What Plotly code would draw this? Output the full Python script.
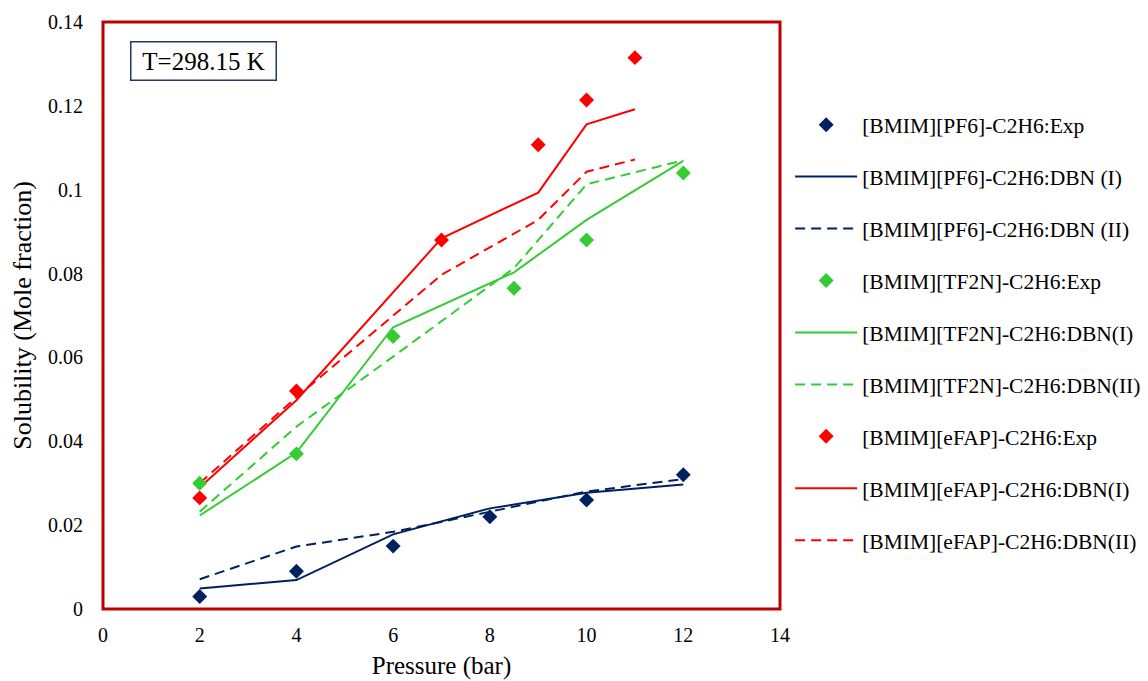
import plotly.graph_objects as go

# ---- data ----
x_pf6 = [2, 4, 6, 8, 10, 12]
pf6_exp = [0.003, 0.009, 0.015, 0.022, 0.026, 0.032]
pf6_dbn1 = [0.0049, 0.0069, 0.0178, 0.0240, 0.0277, 0.0297]
pf6_dbn2 = [0.0071, 0.0149, 0.0184, 0.0232, 0.0280, 0.0310]

x_tf2n = [2, 4, 6, 8.5, 10, 12]
tf2n_exp = [0.030, 0.037, 0.065, 0.0765, 0.088, 0.104]
tf2n_dbn1 = [0.0223, 0.0373, 0.0672, 0.0803, 0.0928, 0.1069]
tf2n_dbn2 = [0.0232, 0.0435, 0.0602, 0.0813, 0.1013, 0.1070]

x_efap = [2, 4, 7, 9, 10, 11]
efap_exp = [0.0265, 0.052, 0.088, 0.1107, 0.1214, 0.1315]
efap_dbn1 = [0.0290, 0.0498, 0.0884, 0.0993, 0.1156, 0.1192]
efap_dbn2 = [0.0300, 0.0505, 0.0797, 0.0928, 0.1043, 0.1072]

x_ticks = [0, 2, 4, 6, 8, 10, 12, 14]
y_ticks = [0, 0.02, 0.04, 0.06, 0.08, 0.10, 0.12, 0.14]
y_tick_labels = ["0", "0.02", "0.04", "0.06", "0.08", "0.1", "0.12", "0.14"]

NAVY = "#002060"
GREEN = "#33CC33"
RED = "#FF0000"
FONT = "Liberation Serif"

fig = go.Figure()

series = [
    ("[BMIM][PF6]-C2H6:Exp", x_pf6, pf6_exp, NAVY, "exp"),
    ("[BMIM][PF6]-C2H6:DBN (I)", x_pf6, pf6_dbn1, NAVY, "solid"),
    ("[BMIM][PF6]-C2H6:DBN (II)", x_pf6, pf6_dbn2, NAVY, "dash"),
    ("[BMIM][TF2N]-C2H6:Exp", x_tf2n, tf2n_exp, GREEN, "exp"),
    ("[BMIM][TF2N]-C2H6:DBN(I)", x_tf2n, tf2n_dbn1, GREEN, "solid"),
    ("[BMIM][TF2N]-C2H6:DBN(II)", x_tf2n, tf2n_dbn2, GREEN, "dash"),
    ("[BMIM][eFAP]-C2H6:Exp", x_efap, efap_exp, RED, "exp"),
    ("[BMIM][eFAP]-C2H6:DBN(I)", x_efap, efap_dbn1, RED, "solid"),
    ("[BMIM][eFAP]-C2H6:DBN(II)", x_efap, efap_dbn2, RED, "dash"),
]

traces = []
for i, (name, xs, ys, col, kind) in enumerate(series):
    if kind == "exp":
        tr = go.Scatter(x=xs, y=ys, mode="markers", name=name,
                        marker=dict(symbol="diamond", size=11.5, color=col),
                        legendrank=i + 1, legendgroup=f"g{i}")
    else:
        tr = go.Scatter(x=xs, y=ys, mode="lines", name=name,
                        line=dict(color=col, width=2,
                                  dash="solid" if kind == "solid" else "10px,6px"),
                        legendrank=i + 1, legendgroup=f"g{i}")
    traces.append((kind, tr))

for kind, tr in traces:
    if kind != "exp":
        fig.add_trace(tr)
for kind, tr in traces:
    if kind == "exp":
        fig.add_trace(tr)

# body has an 8px default margin in the page
fig.update_layout(
    width=1148, height=681,
    margin=dict(l=95, r=376, t=14, b=80, autoexpand=False),
    paper_bgcolor="white", plot_bgcolor="white",
    font=dict(family=FONT, size=20, color="black"),
    showlegend=True,
    legend=dict(x=1.015, y=0.86, xanchor="left", yanchor="top",
                font=dict(family=FONT, size=21.5, color="black"),
                itemwidth=62, tracegroupgap=21, traceorder="grouped",
                bgcolor="rgba(0,0,0,0)"),
    xaxis=dict(range=[0, 14], tickvals=x_ticks, showgrid=False, zeroline=False,
               showline=False, ticks="", tickfont=dict(family=FONT, size=20),
               ticklabelstandoff=12, automargin=False,
               title=dict(text="Pressure (bar)", font=dict(family=FONT, size=25), standoff=11)),
    yaxis=dict(range=[0, 0.14], tickvals=y_ticks, ticktext=y_tick_labels,
               showgrid=False, zeroline=False, showline=False, ticks="",
               tickfont=dict(family=FONT, size=20), ticklabelstandoff=19, automargin=False,
               title=dict(text="Solubility (Mole fraction)", font=dict(family=FONT, size=26), standoff=10)),
    shapes=[dict(type="rect", xref="paper", yref="paper", x0=0, x1=1, y0=0, y1=1,
                 line=dict(color="#C00000", width=3), layer="above")],
    annotations=[dict(text="T=298.15 K", xref="paper", yref="paper", x=0.04, y=0.967,
                      xanchor="left", yanchor="top", showarrow=False,
                      font=dict(family=FONT, size=25, color="black"),
                      width=138, height=31, borderpad=3,
                      bordercolor="#1F3864", borderwidth=1.5,
                      bgcolor="white")],
)

fig.write_html("out.html")
